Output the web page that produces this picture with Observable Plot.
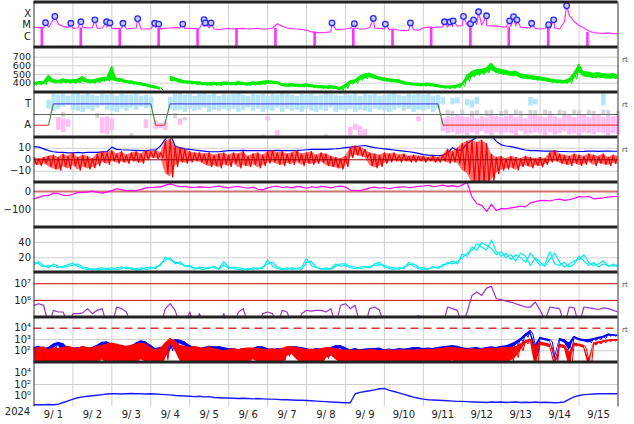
<!DOCTYPE html>
<html><head><meta charset="utf-8">
<script src="https://cdn.jsdelivr.net/npm/d3@7"></script>
<script src="https://cdn.jsdelivr.net/npm/@observablehq/plot@0.6"></script>
<style>
body{margin:0;background:#fff}
#chart{position:relative;width:634px;height:424px;background:#fff;overflow:hidden}
#chart svg{position:absolute;left:0}
</style>
</head><body><div id="chart"></div>
<script>
const _ = null;
// ---- sample times: every 3 hours from 2024-09-01 00:00 UT (121 samples) ----
const startDate = new Date(Date.UTC(2024, 8, 1));
const endDate = new Date(Date.UTC(2024, 8, 16));
const times = d3.range(121).map(i => new Date(startDate.getTime() + i * 3 * 3600e3));
const dayLabels = d3.utcDay.range(startDate, endDate).map(d => d3.utcHour.offset(d, 12));
const dayLines = d3.utcDay.range(new Date(Date.UTC(2024, 8, 2)), endDate);
const yearLabel = "2024";

// ---- panel 1: X-ray flux (in C-class units, 1 = 1e-6 W/m2) ----
const xrayBase = [
 6.4, 6.0, 5.8, 6.5, 30, 12, 7.5, 6.0,
 5.0, 5.5, 6.5, 5.5, 6.0, 5.0, 5.5, 6.5,
 5.0, 4.8, 5.5, 4.5, 5.0, 5.5, 4.5, 4.5,
 4.8, 5.5, 4.5, 5.0, 5.5, 6.0, 5.5, 5.0,
 5.0, 4.8, 5.2, 8.0, 5.5, 4.5, 4.0, 4.5,
 5.0, 4.5, 4.8, 5.0, 4.5, 4.8, 5.0, 4.5,
 4.5, 5.5, 13, 8.0, 5.5, 4.8, 4.5, 4.2,
 3.5, 2.5, 2.2, 2.2, 2.3, 2.5, 4.0, 4.2,
 4.5, 5.0, 5.5, 4.5, 4.5, 6.0, 5.5, 5.0,
 4.5, 4.0, 4.5, 3.5, 3.2, 3.5, 4.0, 3.5,
 5.5, 6.5, 6.0, 6.5, 7.0, 6.5, 7.5, 8.0,
 9.0, 10, 9.5, 11, 10, 9.0, 8.5, 8.0,
 7.0, 6.5, 7.5, 8.0, 6.5, 6.0, 5.5, 5.0,
 4.5, 4.8, 5.0, 5.5, 4.5, 20, 70, 20,
 9, 5.5, 3, 2.2, 2.0, 1.9, 2.1, 1.8, 1.8];
const flareTimes = ["2024-09-01T07:06Z","2024-09-01T12:50Z","2024-09-01T22:43Z","2024-09-02T04:54Z","2024-09-02T13:32Z",
 "2024-09-02T20:46Z","2024-09-02T22:48Z","2024-09-03T06:50Z","2024-09-03T15:55Z","2024-09-04T02:24Z","2024-09-04T04:52Z",
 "2024-09-04T19:41Z","2024-09-05T08:50Z","2024-09-05T09:36Z","2024-09-05T13:06Z","2024-09-08T15:42Z","2024-09-09T05:28Z",
 "2024-09-09T17:11Z","2024-09-10T00:36Z","2024-09-10T16:02Z","2024-09-11T13:02Z","2024-09-11T16:22Z","2024-09-11T18:24Z",
 "2024-09-12T00:46Z","2024-09-12T05:05Z","2024-09-12T06:56Z","2024-09-12T10:02Z","2024-09-12T14:57Z","2024-09-13T05:10Z",
 "2024-09-13T07:38Z","2024-09-13T09:43Z","2024-09-13T18:45Z","2024-09-14T05:14Z","2024-09-14T08:20Z","2024-09-14T16:21Z"];
const flarePeak = [15.5, 55, 14, 19, 28, 19, 15, 14, 35, 14, 12, 12, 29, 15, 15, 15, 13, 37, 12, 15, 19, 18, 23,
 55, 13, 28, 140, 63, 23, 52, 28, 14, 10.5, 28, 470];
const gapTimes = ["2024-09-01T04:50Z","2024-09-02T04:50Z","2024-09-03T04:50Z","2024-09-04T04:50Z","2024-09-05T04:50Z",
 "2024-09-06T04:50Z","2024-09-07T04:50Z","2024-09-08T05:00Z","2024-09-09T04:50Z","2024-09-10T05:00Z","2024-09-11T04:50Z",
 "2024-09-12T05:00Z","2024-09-13T04:40Z","2024-09-14T05:00Z","2024-09-15T05:10Z"];
const gapLevel = [6, 5.5, 5, 5, 5, 5, 5, 2.5, 5, 4, 6.5, 10, 6.5, 5, 2.2];
const xrayTicks = [1e-4, 1e-5, 1e-6];
const xrayTickLabels = ["X", "M", "C"];

// ---- panel 2: solar wind speed (km/s), low / high of each 3-h window ----
const swHi = [
 408, 418, 420, 490, 445, 432, 450, 440,
 438, 445, 477, 442, 436, 450, 462, 470,
 596, 458, 452, 432, 428, 412, 405, 392,
 378, 366, 350, _, 480, 462, 445, 428,
 426, 418, 415, 406, 404, 410, 405, 412,
 410, 405, 418, 408, 402, 415, 412, 422,
 432, 425, 418, 396, 390, 395, 386, 385,
 392, 382, 375, 373, 368, 372, 360, 352,
 385, 428, 438, 482, 505, 518, 495, 472,
 462, 452, 445, 440, 420, 408, 402, 398,
 396, 402, 392, 382, 372, 366, 370, 378,
 400, 490, 535, 555, 560, 575, 632, 572,
 560, 548, 532, 540, 508, 498, 490, 480,
 475, 462, 452, 440, 435, 430, 450, 520,
 620, 535, 528, 515, 522, 508, 502, 510, 495];
const swLo = [
 372, 378, 382, 415, 398, 396, 402, 398,
 395, 400, 415, 398, 395, 402, 418, 422,
 432, 412, 410, 396, 385, 378, 366, 358,
 342, 334, 322, _, 420, 418, 398, 392,
 386, 382, 376, 372, 366, 372, 368, 372,
 375, 370, 376, 372, 366, 374, 376, 380,
 390, 386, 382, 360, 354, 356, 352, 350,
 354, 346, 340, 336, 332, 334, 326, 315,
 338, 385, 395, 430, 448, 462, 446, 430,
 420, 410, 405, 400, 380, 372, 366, 362,
 360, 364, 356, 346, 338, 334, 336, 342,
 362, 420, 468, 488, 500, 515, 548, 510,
 500, 492, 478, 482, 455, 445, 440, 430,
 426, 418, 408, 400, 396, 392, 398, 445,
 520, 470, 465, 455, 462, 452, 448, 452, 445];
const swTicks = [400, 500, 600, 700];

// ---- panel 3: IMF sector (T = +1, A = -1) ----
const sectorTimes = ["2024-09-01T00:00Z","2024-09-01T09:00Z","2024-09-01T11:50Z","2024-09-04T00:00Z","2024-09-04T03:00Z",
 "2024-09-04T08:30Z","2024-09-04T11:50Z","2024-09-11T09:00Z","2024-09-11T12:10Z","2024-09-16T00:00Z"];
const sectorValues = [-1, -1, 1, 1, -1, -1, 1, 1, -1, -1];
const towardHi = [
 _, _, _, 1.3, 1.9, 1.8, 1.9, 1.7,
 1.9, 2.0, 1.8, 1.9, 1.8, 1.7, 1.9, 1.8,
 1.9, 1.7, 1.9, 1.8, 1.8, 1.9, 1.7, 1.8,
 1.6, _, _, _, 1.6, 1.9, 2.0, 1.8,
 1.9, 1.7, 1.9, 2.0, 1.8, 1.9, 1.7, 1.9,
 1.8, 1.9, 2.0, 1.8, 1.7, 1.9, 1.8, 1.9,
 1.7, 1.9, 1.8, 2.0, 1.9, 1.8, 1.7, 1.9,
 1.8, 1.9, 1.7, 1.8, 2.0, 1.9, 1.8, 1.7,
 1.9, 1.8, 2.0, 1.7, 1.9, 1.8, 1.9, 1.7,
 1.8, 1.9, 2.0, 1.8, 1.7, 1.9, 1.8, 1.9,
 1.8, 1.9, 1.7, 1.8, 1.6, _, 1.5, 1.6,
 _, 1.4, 1.3, 1.6, _, _, _, _,
 _, _, _, _, _, _, 1.6, 1.4,
 _, _, _, _, _, _, _, _,
 _, _, _, _, _, 1.9, _, _, _];
const towardLo = [
 _, _, _, 0.5, 0.3, 0.5, 0.7, 0.9,
 0.4, 0.3, 0.2, 0.5, 0.3, 0.6, 0.8, 0.4,
 0.3, 0.2, 0.5, 0.3, 0.6, 0.4, 0.7, 0.5,
 0.6, _, _, _, 0.5, 0.3, 0.4, 0.2,
 0.5, 0.3, 0.4, 0.6, 0.2, 0.4, 0.3, 0.5,
 0.3, 0.5, 0.2, 0.4, 0.6, 0.3, 0.5, 0.2,
 0.4, 0.3, 0.6, 0.2, 0.5, 0.3, 0.4, 0.2,
 0.5, 0.3, 0.2, 0.4, 0.3, 0.6, 0.2, 0.4,
 0.3, 0.5, 0.2, 0.4, 0.3, 0.2, 0.5, 0.4,
 0.3, 0.2, 0.4, 0.6, 0.3, 0.5, 0.2, 0.4,
 0.3, 0.5, 0.2, 0.5, 0.9, _, 0.9, 1.0,
 _, 0.8, 0.6, 0.9, _, _, _, _,
 _, _, _, _, _, _, 0.8, 0.9,
 _, _, _, _, _, _, _, _,
 _, _, _, _, _, 0.8, _, _, _];
const awayHi = [
 _, _, _, _, _, -0.3, -0.4, -0.5,
 _, _, _, _, _, _, -0.3, -0.2,
 -0.4, _, _, _, _, _, _, -0.5,
 _, -0.6, -0.8, -0.7, _, _, -0.4, _,
 _, _, _, _, _, _, _, _,
 _, _, _, _, _, _, _, _,
 -0.2, _, -1.5, _, _, _, _, _,
 _, _, _, _, _, _, _, _,
 _, -1.2, -0.9, -1.1, -1.4, _, _, _,
 _, _, _, _, _, _, _, -0.2,
 _, _, _, _, -0.4, -0.2, -0.3, -0.1,
 -0.2, -0.3, -0.1, -0.4, -0.2, -0.3, -0.1, -0.2,
 -0.3, -0.2, -0.1, -0.3, -0.2, -0.4, -0.1, -0.2,
 -0.2, -0.3, -0.1, -0.2, -0.4, -0.2, -0.1, -0.3,
 -0.2, -0.1, -0.3, -0.2, -0.1, -0.3, -0.2, -0.2, -0.1];
const awayLo = [
 _, _, _, _, _, -1.5, -1.7, -1.2,
 _, _, _, _, _, _, -1.8, -1.9,
 -1.5, _, _, _, _, _, _, -1.3,
 _, -1.4, -1.3, -1.5, _, _, -1.0, _,
 _, _, _, _, _, _, _, _,
 _, _, _, _, _, _, _, _,
 -0.6, _, -2.0, _, _, _, _, _,
 _, _, _, _, _, _, _, _,
 _, -2.0, -1.5, -2.0, -2.0, _, _, _,
 _, _, _, _, _, _, _, -0.7,
 _, _, _, _, -1.6, -1.8, -1.7, -1.9,
 -1.8, -2.0, -1.7, -1.9, -1.6, -1.8, -2.0, -1.7,
 -1.9, -1.7, -1.8, -2.0, -1.6, -1.9, -1.8, -1.7,
 -1.8, -2.0, -1.7, -1.9, -1.8, -1.6, -1.9, -1.8,
 -2.0, -1.7, -1.8, -1.9, -1.7, -1.8, -2.0, -1.8, -1.9];
const mixedHi = [
 _, _, _, _, _, _, 0.2, _,
 _, _, _, _, _, 0.1, _, _,
 _, _, _, _, -1.8, _, _, _,
 _, _, _, _, _, 0.1, _, -0.3,
 _, _, _, _, _, _, _, _,
 _, _, _, _, _, _, _, -1.9,
 _, _, _, _, _, _, _, _,
 _, _, _, _, -1.9, _, _, _,
 _, _, _, _, _, _, _, _,
 _, _, _, _, _, _, _, _,
 _, _, _, _, _, 0.4, 0.3, _,
 0.4, _, 0.3, 0.4, _, 0.35, 0.4, _,
 0.3, 0.4, _, 0.4, 0.3, _, 0.4, 0.35,
 _, 0.4, 0.3, _, 0.4, 0.3, _, 0.4,
 0.35, _, 0.4, 0.3, _, 0.4, 0.35, _, 0.3];
const mixedLo = [
 _, _, _, _, _, _, -0.3, _,
 _, _, _, _, _, -0.4, _, _,
 _, _, _, _, -2.1, _, _, _,
 _, _, _, _, _, -0.4, _, -0.6,
 _, _, _, _, _, _, _, _,
 _, _, _, _, _, _, _, -2.1,
 _, _, _, _, _, _, _, _,
 _, _, _, _, -2.1, _, _, _,
 _, _, _, _, _, _, _, _,
 _, _, _, _, _, _, _, _,
 _, _, _, _, _, -0.1, -0.2, _,
 -0.1, _, -0.2, -0.1, _, -0.2, -0.1, _,
 -0.2, -0.1, _, -0.1, -0.2, _, -0.1, -0.2,
 _, -0.1, -0.2, _, -0.1, -0.2, _, -0.1,
 -0.2, _, -0.1, -0.2, _, -0.1, -0.2, _, -0.2];

// ---- panel 4: IMF Bt and Bz (nT) ----
const bt = [
 11.5, 11, 9.5, 8, 7, 6.5, 6.5, 6,
 6, 6.5, 6, 6.5, 6.5, 6.5, 6.8, 7,
 11, 9, 8.7, 8.5, 8.3, 8.2, 8, 8,
 8.5, 8.5, 12, 18, 22, 12, 10.5, 9.5,
 9, 8.5, 8, 7.5, 7, 7, 7, 7.5,
 8, 8, 8, 8.2, 8, 8, 8, 8,
 8, 8, 8.2, 8, 8, 8, 8.1, 8.3,
 8.7, 9, 9, 9, 9, 9.3, 9.6, 10,
 10.5, 11, 11.5, 12, 12.4, 11.5, 10.5, 10,
 9.5, 9, 8.5, 8, 7.5, 7, 6.5, 5.5,
 4.5, 4, 3.8, 3.5, 4, 6, 10.5, 8,
 9, 14, 17, 19.5, 21, 23, 21, 16,
 13, 12, 11.5, 10.5, 9.5, 8.5, 8, 8,
 7.8, 7.5, 7.5, 7.5, 7.2, 7.2, 7, 7,
 7.2, 7.3, 7.5, 7.5, 7.3, 7.5, 7.5, 7.4, 7.4];
const bzHi = [
 2, 1, 2, 3, 4, 2, 5, 3,
 6, 2, 4, 3, 1, 5, 7, 6,
 8, 5, 7, 4, 6, 7, 5, 8,
 7, 8, 6, 16, 18, 12, 10, 9,
 7, 6, 6, 5, 6, 4, 5, 6,
 4, 6, 5, 7, 3, 5, 6, 4,
 7, 8, 6, 7, 5, 6, 8, 5,
 6, 7, 4, 6, 5, 3, 2, 1,
 3, 10, 12, 11, 9, 6, 5, 4,
 6, 5, 6, 4, 5, 3, 4, 3,
 3, 2, 3, 2, 4, 9, 7, 10,
 14, 16, 17, 15, 17, 14, 5, 2,
 3, 1, 3, 2, 1, 3, 2, 1,
 2, 1, 6, 8, 5, 4, 3, 5,
 4, 3, 5, 4, 3, 5, 2, 4, 3];
const bzLo = [
 -4, -5, -3, -6, -8, -9, -6, -8,
 -5, -9, -6, -8, -7, -5, -2, -4,
 -1, -3, -2, -3, -1, -2, -3, 0,
 2, 1, 2, -12, -15, -6, -2, -3,
 -2, -1, -2, -4, -6, -5, -7, -4,
 -6, -3, -7, -5, -6, -4, -7, -5,
 -3, -2, -4, -5, -3, -4, -2, -5,
 -3, -4, -3, -2, -5, -6, -7, -8,
 -6, 2, 4, 3, 2, -5, -7, -6,
 -3, -2, -1, -2, -1, -2, -2, -1,
 -2, -1, -2, -2, -1, -3, -2, -3,
 -9, -12, -20, -20, -20, -20, -18, -12,
 -9, -8, -7, -9, -6, -5, -7, -5,
 -6, -4, -2, -1, -3, -4, -5, -3,
 -5, -4, -2, -5, -3, -4, -5, -3, -4];

// ---- panel 5: Dst (nT) ----
const dst = [
 -40, -32, -22, -22, -9, -12, -20, -22,
 -15, -6, -5, -3, 2, -5, -9, -3,
 5, 15, 10, 5, 6, 5, 12, 20,
 22, 24, 24, 35, 42, 33, 26, 27,
 24, 22, 25, 24, 22, 26, 29, 24,
 20, 26, 28, 22, 18, 24, 12, 9,
 20, 26, 29, 22, 26, 20, 28, 24,
 18, 26, 22, 28, 25, 20, 26, 29,
 24, 8, 6, 5, 12, 20, 24, 18,
 22, 15, 22, 24, 26, 22, 24, 28,
 30, 34, 26, 30, 35, 28, 32, 25,
 36, 50, -30, -67, -76, -109, -70, -104,
 -92, -95, -89, -85, -80, -84, -62, -55,
 -50, -48, -52, -45, -42, -48, -44, -38,
 -28, -30, -27, -40, -38, -35, -30, -28, -27];

// ---- panel 6: two cyan series ----
const cyanA = [
 14, 12, 8, 10, 9, 7, 9, 11,
 13, 9, 6, 5, 6, 4, 5, 6,
 7, 5, 6, 8, 5, 6, 7, 5,
 6, 8, 10, 21, 17, 14, 12, 10,
 8, 7, 6, 5, 8, 7, 6, 15,
 8, 6, 5, 4, 6, 5, 7, 6,
 17, 9, 6, 5, 7, 5, 6, 8,
 19, 10, 7, 6, 5, 6, 12, 9,
 10, 7, 6, 8, 9, 7, 12, 14,
 8, 6, 5, 7, 6, 14, 9, 6,
 5, 6, 7, 8, 9, 14, 12, 15,
 20, 26, 30, 38, 34, 30, 43, 28,
 22, 26, 18, 24, 20, 14, 26, 18,
 10, 12, 28, 12, 10, 14, 8, 12,
 22, 16, 10, 14, 8, 12, 10, 9, 11];
const cyanB = [
 11, 15, 10, 7, 12, 9, 7, 9,
 10, 12, 8, 7, 4, 6, 7, 5,
 5, 7, 8, 6, 7, 4, 5, 7,
 8, 6, 12, 17, 20, 12, 15, 9,
 10, 5, 8, 7, 6, 9, 5, 11,
 6, 8, 7, 6, 4, 7, 5, 8,
 12, 14, 8, 6, 5, 7, 6, 5,
 14, 15, 8, 5, 7, 5, 9, 12,
 12, 9, 8, 6, 7, 9, 10, 11,
 10, 8, 7, 5, 8, 11, 12, 8,
 7, 5, 9, 6, 11, 12, 16, 12,
 25, 22, 34, 30, 40, 36, 32, 24,
 28, 20, 24, 16, 26, 22, 10, 20,
 14, 9, 18, 26, 14, 8, 12, 16,
 18, 24, 14, 10, 12, 16, 9, 12, 8];

// ---- panel 7: electron flux, log10 ----
const electronLog = [
 5.7, 5.8, 5.7, 4.5, 5.4, 5.3, 5.3, 4.5,
 5.2, 5.2, 5.25, 5.5, 5.2, 5.4, 5.5, 4.5,
 4.5, 5.6, 5.5, 5.3, 4.5, 4.5, 4.5, 4.5,
 4.5, 4.5, 4.5, 5.5, 5.8, 5.4, 4.5, 4.5,
 5.3, 4.5, 5.2, 4.5, 4.5, 4.5, 4.5, 5.2,
 4.5, 4.5, 5.3, 5.5, 4.5, 4.5, 4.5, 5.2,
 5.3, 5.2, 4.5, 5.4, 5.3, 4.5, 4.5, 5.2,
 5.4, 5.35, 5.4, 5.4, 5.3, 5.5, 4.5, 5.7,
 5.8, 5.5, 5.7, 4.5, 4.5, 5.5, 5.6, 5.4,
 4.5, 4.5, 4.5, 4.5, 4.5, 4.5, 4.5, 5.1,
 4.5, 4.5, 4.5, 4.5, 4.5, 5.6, 5.5, 5.4,
 4.5, 5.3, 6.3, 6.5, 6.3, 6.74, 6.84, 6.1,
 6.05, 5.95, 5.9, 5.8, 5.7, 5.6, 5.6, 5.9,
 5.4, 4.8, 5.6, 5.55, 5.5, 4.5, 5.6, 5.55,
 4.5, 5.6, 5.55, 5.5, 5.45, 5.55, 5.5, 5.4, 5.3];

// ---- panel 8: proton flux (log10), two channels, low/high per window ----
const p1Hi = [
 2.3, 2.4, 2.2, 2.3, 2.6, 2.75, 2.65, 2.3,
 2.2, 2.3, 2.1, 2.2, 2.3, 2.5, 2.75, 2.8,
 2.6, 2.4, 2.3, 2.2, 2.4, 2.7, 2.9, 2.8,
 2.5, 2.2, 2.3, 2.4, 2.7, 3.0, 2.95, 2.8,
 2.5, 2.3, 2.2, 2.3, 2.4, 2.35, 2.38, 2.3,
 2.2, 2.2, 2.1, 2.2, 2.15, 2.2, 2.38, 2.36,
 2.2, 2.1, 2.2, 2.15, 2.3, 2.38, 2.35, 2.3,
 2.2, 2.1, 2.2, 2.15, 2.25, 2.3, 2.45, 2.47,
 2.3, 2.1, 2.2, 2.1, 2.15, 2.2, 2.2, 2.25,
 2.1, 2.15, 2.1, 2.2, 2.15, 2.2, 2.3, 2.3,
 2.2, 2.25, 2.2, 2.3, 2.35, 2.4, 2.47, 2.4,
 2.3, 2.2, 2.25, 2.3, 2.2, 2.3, 2.35, 2.3,
 2.4, 2.45, 2.6, 2.8, 3.1, 3.5, 3.8, 2.5,
 3.2, 3.1, 3.0, 1.5, 3.1, 3.0, 2.7, 3.3,
 3.1, 3.0, 3.0, 3.1, 3.2, 3.3, 3.5, 3.45, 3.4];
const p1Lo = [
 1.2, 1.3, 1.1, 1.4, 2.2, 2.5, 1.6, 1.2,
 1.3, 1.2, 1.1, 1.3, 1.4, 2.0, 2.4, 2.5,
 1.8, 1.3, 1.2, 1.1, 1.5, 2.3, 2.6, 2.5,
 1.5, 1.2, 1.3, 1.4, 2.0, 2.6, 2.6, 2.4,
 1.5, 1.2, 1.3, 1.4, 1.5, 2.0, 2.1, 1.6,
 1.3, 1.2, 1.3, 1.2, 1.3, 1.4, 2.0, 1.8,
 1.2, 1.1, 1.3, 1.2, 1.6, 2.1, 2.0, 1.5,
 1.2, 1.1, 1.2, 1.3, 1.4, 1.5, 2.1, 2.2,
 1.4, 1.1, 1.2, 1.2, 1.3, 1.2, 1.6, 1.8,
 1.2, 1.1, 1.2, 1.3, 1.2, 1.3, 1.5, 1.7,
 1.2, 1.3, 1.2, 1.3, 1.5, 1.6, 1.8, 1.6,
 1.3, 1.2, 1.3, 1.2, 1.3, 1.4, 1.5, 1.4,
 1.6, 1.8, 2.2, 2.5, 2.8, 3.2, 3.5, 1.5,
 3.0, 2.9, 2.8, 1.2, 2.9, 2.7, 2.0, 3.1,
 2.9, 2.8, 2.7, 2.9, 3.0, 3.1, 3.3, 3.3, 3.3];
const p2Hi = [
 2.2, 2.3, 2.35, 2.1, 2.3, 2.2, 2.3, 2.4,
 2.3, 2.2, 2.4, 2.3, 2.25, 2.4, 2.5, 2.6,
 2.7, 2.6, 2.5, 2.4, 2.5, 2.6, 2.7, 2.6,
 2.3, 2.1, 2.2, 2.7, 3.1, 2.9, 2.5, 2.4,
 2.3, 2.4, 2.3, 2.2, 2.35, 2.2, 2.1, 2.0,
 2.1, 2.2, 2.1, 2.2, 2.25, 2.25, 2.2, 2.15,
 2.1, 2.2, 2.1, 2.2, 2.35, 2.38, 2.3, 2.2,
 2.1, 2.15, 2.1, 2.2, 2.26, 2.26, 2.2, 2.1,
 2.05, 2.1, 2.0, 2.1, 2.05, 2.1, 2.1, 2.0,
 2.05, 2.1, 2.0, 2.1, 2.05, 2.1, 2.05, 2.1,
 2.1, 2.15, 2.1, 2.2, 2.2, 2.3, 2.3, 2.25,
 2.2, 2.1, 2.2, 2.1, 2.15, 2.2, 2.25, 2.2,
 2.3, 2.3, 2.3, 2.35, 2.6, 2.9, 3.05, 2.3,
 2.8, 2.7, 2.6, 1.0, 2.6, 2.5, 1.8, 2.7,
 2.6, 2.5, 1.2, 2.7, 2.8, 2.9, 2.95, 3.0, 3.0];
const p2Lo = [
 0.8, 0.8, 0.9, 0.8, 0.9, 0.8, 0.9, 0.8,
 0.8, 0.9, 0.8, 0.8, 0.9, 1.0, 1.2, 0.9,
 1.0, 0.9, 0.8, 0.8, 0.9, 1.0, 1.2, 1.0,
 0.9, 0.8, 0.8, 1.2, 2.6, 2.0, 1.1, 0.9,
 0.8, 0.9, 0.8, 0.8, 0.9, 0.9, 0.8, 0.8,
 0.8, 0.9, 0.8, 0.9, 1.0, 1.2, 1.0, 0.9,
 0.8, 0.8, 0.9, 0.8, 1.5, 1.7, 1.2, 0.9,
 0.8, 0.8, 0.9, 0.8, 1.3, 1.6, 1.2, 0.9,
 0.8, 0.8, 0.9, 0.8, 0.8, 0.9, 0.9, 0.8,
 0.8, 0.8, 0.9, 0.8, 0.8, 0.9, 0.8, 0.9,
 0.8, 0.8, 0.9, 0.8, 0.9, 1.0, 1.1, 1.0,
 0.9, 0.8, 0.8, 0.9, 0.8, 0.9, 0.8, 0.9,
 0.9, 1.0, 1.1, 1.4, 2.0, 2.6, 2.8, 0.5,
 2.5, 2.4, 2.3, 0.5, 2.3, 2.2, 0.5, 2.4,
 2.4, 2.2, 0.5, 2.5, 2.6, 2.7, 2.8, 2.85, 2.85];

// ---- panel 9: bottom series, log10 ----
const bottomLog = [
 -1.6, -1.6, -1.6, -1.55, -1.6, -1.5, -1.2, -0.9,
 -0.6, -0.35, -0.2, -0.1, 0.0, 0.1, 0.2, 0.3,
 0.35, 0.35, 0.3, 0.35, 0.4, 0.35, 0.35, 0.3,
 0.35, 0.3, 0.25, 0.2, 0.15, 0.05, 0.0, -0.05,
 -0.1, -0.15, -0.1, -0.2, -0.15, -0.3, -0.35, -0.4,
 -0.4, -0.45, -0.5, -0.45, -0.5, -0.55, -0.5, -0.55,
 -0.6, -0.6, -0.65, -0.7, -0.7, -0.75, -0.8, -0.8,
 -0.85, -0.9, -0.95, -1.0, -1.05, -1.1, -1.15, -1.2,
 -1.25, -1.25, 0.35, 0.6, 0.75, 0.9, 1.05, 1.25,
 1.3, 0.95, 0.75, 0.5, 0.25, 0.0, -0.25, -0.45,
 -0.6, -0.7, -0.75, -0.8, -0.85, -0.9, -0.95, -1.0,
 -1.0, -1.05, -1.1, -1.1, -1.15, -1.2, -1.1, -1.15,
 -1.1, -1.2, -1.15, -1.1, -1.2, -1.15, -1.2, -1.1,
 -1.2, -1.15, -1.2, -1.25, -1.2, -1.1, -0.6, -0.2,
 0.05, 0.2, 0.25, 0.3, 0.35, 0.35, 0.35, 0.35, 0.35];

// ================= drawing =================
const sup = {"-2":"⁻²", "0":"⁰", "1":"¹", "2":"²", "3":"³", "4":"⁴", "5":"⁵", "6":"⁶", "7":"⁷"};
const pow10 = d => "10" + sup[String(Math.round(Math.log10(d)))];
const dayFmt = d => `${d.getUTCMonth() + 1}/${String(d.getUTCDate()).padStart(2, " ")}`;
const chart = document.getElementById("chart");
const GRID = "#cfcfcf";
const rows = times.map((t, i) => ({t, i}));
const HALF = 1.5 * 3600e3;
const p10 = v => Math.pow(10, v);
// a window's high value, then its low value half a window later (noisy trace)
const zig = (hi, lo, f = v => v) => rows.flatMap(r => [
  {t: r.t, v: hi[r.i] == null ? null : f(hi[r.i])},
  {t: new Date(+r.t + HALF), v: lo[r.i] == null ? null : f(lo[r.i])}]);
// the window ranges as a band
const rng = (hi, lo, f = v => v) => rows.map(r => ({t: r.t,
  hi: hi[r.i] == null ? null : f(hi[r.i]), lo: lo[r.i] == null ? null : f(lo[r.i])}));

function addPanel(k, y, marks, rt, fs = 10) {
  const last = k === 8;
  const svg = Plot.plot({
    width: 634, height: last ? 66 : 48,
    marginLeft: 33.5, marginRight: 16.5, marginTop: 1.5, marginBottom: last ? 19.5 : 1.5,
    style: {background: "transparent", overflow: "visible", fontFamily: "DejaVu Sans, sans-serif", fontSize: fs + "px", color: "#222"},
    x: {type: "utc", domain: [startDate, endDate], axis: last ? "bottom" : null,
        ticks: dayLabels, tickFormat: dayFmt, tickSize: 0, tickPadding: 4, label: null},
    y: Object.assign({axis: "left", tickSize: 0, tickPadding: 3, label: null}, y),
    marks: [
      Plot.ruleX(dayLines, {stroke: GRID, strokeWidth: 1}),
      ...marks,
      Plot.ruleX([startDate, endDate], {stroke: "#333", strokeWidth: 1}),
      Plot.ruleY([y.domain[1]], {stroke: "#222", strokeWidth: 3}),
      rt ? Plot.text(["rt"], {frameAnchor: "top-right", dx: 4, dy: 10, textAnchor: "start", fontSize: 7, fill: "#444"}) : null,
      last ? Plot.text([yearLabel], {x: () => startDate, frameAnchor: "bottom", dx: -16.5, dy: 8, text: d => d, fontSize: 10, fill: "#222"}) : null
    ]
  });
  svg.style.top = (45 * k) + "px";
  chart.appendChild(svg);
}

// panel 1: X-ray
const xrMin = 1.22e-7;
const xrayLine = rows.map(r => ({t: r.t, v: xrayBase[r.i] * 1e-6}))
  .concat(flareTimes.map((s, i) => ({t: new Date(s), v: flarePeak[i] * 1e-6})))
  .sort((a, b) => a.t - b.t);
const flares = flareTimes.map((s, i) => ({t: new Date(s), v: flarePeak[i] * 1e-6}));
const gaps = gapTimes.map((s, i) => ({t: new Date(s), v: gapLevel[i] * 1e-6}));
addPanel(0, {type: "log", domain: [xrMin, 1e-3], ticks: xrayTicks,
  tickFormat: d => xrayTickLabels[xrayTicks.findIndex(v => Math.abs(Math.log10(v) - Math.log10(d)) < 0.01)]}, [
  Plot.ruleX(gaps, {x: "t", y1: "v", y2: xrMin, stroke: "#ff33ff", strokeWidth: 2.6}),
  Plot.line(xrayLine, {x: "t", y: "v", stroke: "#ff33ff", strokeWidth: 1.2, clip: true}),
  Plot.dot(flares, {x: "t", y: "v", r: 2.8, stroke: "#2a2aff", strokeWidth: 1.3, fill: "#c8c8ff"})
]);

// panel 2: solar wind
addPanel(1, {domain: [298, 817], ticks: swTicks}, [
  Plot.ruleY(swTicks, {stroke: GRID}),
  Plot.areaY(rng(swHi, swLo), {x: "t", y1: "lo", y2: "hi", fill: "#00ee00", clip: true}),
  Plot.line(zig(swHi, swLo), {x: "t", y: "v", stroke: "#00ee00", strokeWidth: 1, clip: true})
], true, 9.5);

// panel 3: sector
const band = (hi, lo) => rows.filter(r => hi[r.i] != null).map(r => ({t: r.t, hi: hi[r.i], lo: lo[r.i]}));
const segs = d3.range(sectorTimes.length - 1).map(i => ({
  x1: new Date(sectorTimes[i]), x2: new Date(sectorTimes[i + 1]), y1: sectorValues[i], y2: sectorValues[i + 1]}));
addPanel(2, {domain: [-2.1, 2.1], ticks: [1, -1], tickFormat: d => d > 0 ? "T" : "A"}, [
  Plot.ruleX(band(mixedHi, mixedLo), {x: "t", y1: "lo", y2: "hi", stroke: "#d4d4d4", strokeWidth: 4}),
  Plot.ruleX(band(awayHi, awayLo), {x: "t", y1: "lo", y2: "hi", stroke: "#ffbdf2", strokeWidth: 4.5}),
  Plot.ruleX(band(towardHi, towardLo), {x: "t", y1: "lo", y2: "hi", stroke: "#b4e4ff", strokeWidth: 4.5}),
  Plot.ruleY([0], {stroke: "#666"}),
  Plot.link(segs.filter(s => s.y1 !== s.y2), {x1: "x1", x2: "x2", y1: "y1", y2: "y2", stroke: "#4a8a4a", strokeWidth: 1.2}),
  Plot.link(segs.filter(s => s.y1 === s.y2 && s.y1 > 0), {x1: "x1", x2: "x2", y1: "y1", y2: "y2", stroke: "#5050e8", strokeWidth: 1.2}),
  Plot.link(segs.filter(s => s.y1 === s.y2 && s.y1 < 0), {x1: "x1", x2: "x2", y1: "y1", y2: "y2", stroke: "#ee4444", strokeWidth: 1.2})
], true);

// panel 4: IMF
const btRows = rows.map(r => ({t: r.t, v: bt[r.i]}));
addPanel(3, {domain: [-19.3, 19.8], ticks: [10, 0, -10]}, [
  Plot.ruleY([10, -10], {stroke: GRID}),
  Plot.line(btRows, {x: "t", y: "v", stroke: "#0000ff", strokeWidth: 1.2, clip: true}),
  Plot.areaY(rng(bzHi, bzLo), {x: "t", y1: "lo", y2: "hi", fill: "#ff0000", fillOpacity: 0.55, clip: true}),
  Plot.line(zig(bzHi, bzLo), {x: "t", y: "v", stroke: "#ff0000", strokeWidth: 1.3, clip: true}),
  Plot.ruleY([0], {stroke: "#990000", strokeWidth: 1})
], true);

// panel 5: Dst
const dstRows = rows.map(r => ({t: r.t, v: dst[r.i]}));
addPanel(4, {domain: [-194, 52], ticks: [0, -100]}, [
  Plot.ruleY([-100], {stroke: GRID}),
  Plot.ruleY([0], {stroke: "#d07070", strokeWidth: 2}),
  Plot.line(dstRows, {x: "t", y: "v", stroke: "#ff00ff", strokeWidth: 1.2, clip: true})
]);

// panel 6: cyan
const cyRows = rows.map(r => ({t: r.t, a: cyanA[r.i], b: cyanB[r.i]}));
addPanel(5, {domain: [1.5, 60], ticks: [20, 40]}, [
  Plot.ruleY([20, 40], {stroke: GRID}),
  Plot.line(cyRows, {x: "t", y: "b", stroke: "#00eeee", strokeWidth: 1.2, clip: true}),
  Plot.line(cyRows, {x: "t", y: "a", stroke: "#00eeee", strokeWidth: 1.2, clip: true})
]);

// panel 7: electrons
const elRows = rows.map(r => ({t: r.t, v: p10(electronLog[r.i])}));
addPanel(6, {type: "log", domain: [1e5, 5.1e7], ticks: [1e6, 1e7], tickFormat: pow10}, [
  Plot.ruleY([1e6, 1e7], {stroke: "#cc0000", strokeWidth: 1}),
  Plot.line(elRows, {x: "t", y: "v", stroke: "#9933cc", strokeWidth: 1.2, clip: true})
], true);

// panel 8: protons
addPanel(7, {type: "log", domain: [10, 1e5], ticks: [1e2, 1e3, 1e4], tickFormat: pow10}, [
  Plot.ruleY([1e2, 1e3], {stroke: GRID}),
  Plot.ruleY([1e4], {stroke: "#dd3333", strokeWidth: 1.3, strokeDasharray: "8,5"}),
  Plot.areaY(rng(p1Hi, p1Lo, p10), {x: "t", y1: "lo", y2: "hi", fill: "#0000ff", clip: true}),
  Plot.line(zig(p1Hi, p1Lo, p10), {x: "t", y: "v", stroke: "#0000ff", strokeWidth: 1, clip: true}),
  Plot.areaY(rng(p2Hi, p2Lo, p10), {x: "t", y1: "lo", y2: "hi", fill: "#ff0000", clip: true}),
  Plot.line(zig(p2Hi, p2Lo, p10), {x: "t", y: "v", stroke: "#ff0000", strokeWidth: 1, clip: true})
], true);

// panel 9: bottom
const bottomRows = rows.map(r => ({t: r.t, v: p10(bottomLog[r.i])}));
addPanel(8, {type: "log", domain: [1e-2, 1e6], ticks: [1, 1e2, 1e4], tickFormat: pow10}, [
  Plot.ruleY([1e2], {stroke: GRID}),
  Plot.line(bottomRows, {x: "t", y: "v", stroke: "#1a1aff", strokeWidth: 1.4, clip: true})
]);
</script></body></html>
